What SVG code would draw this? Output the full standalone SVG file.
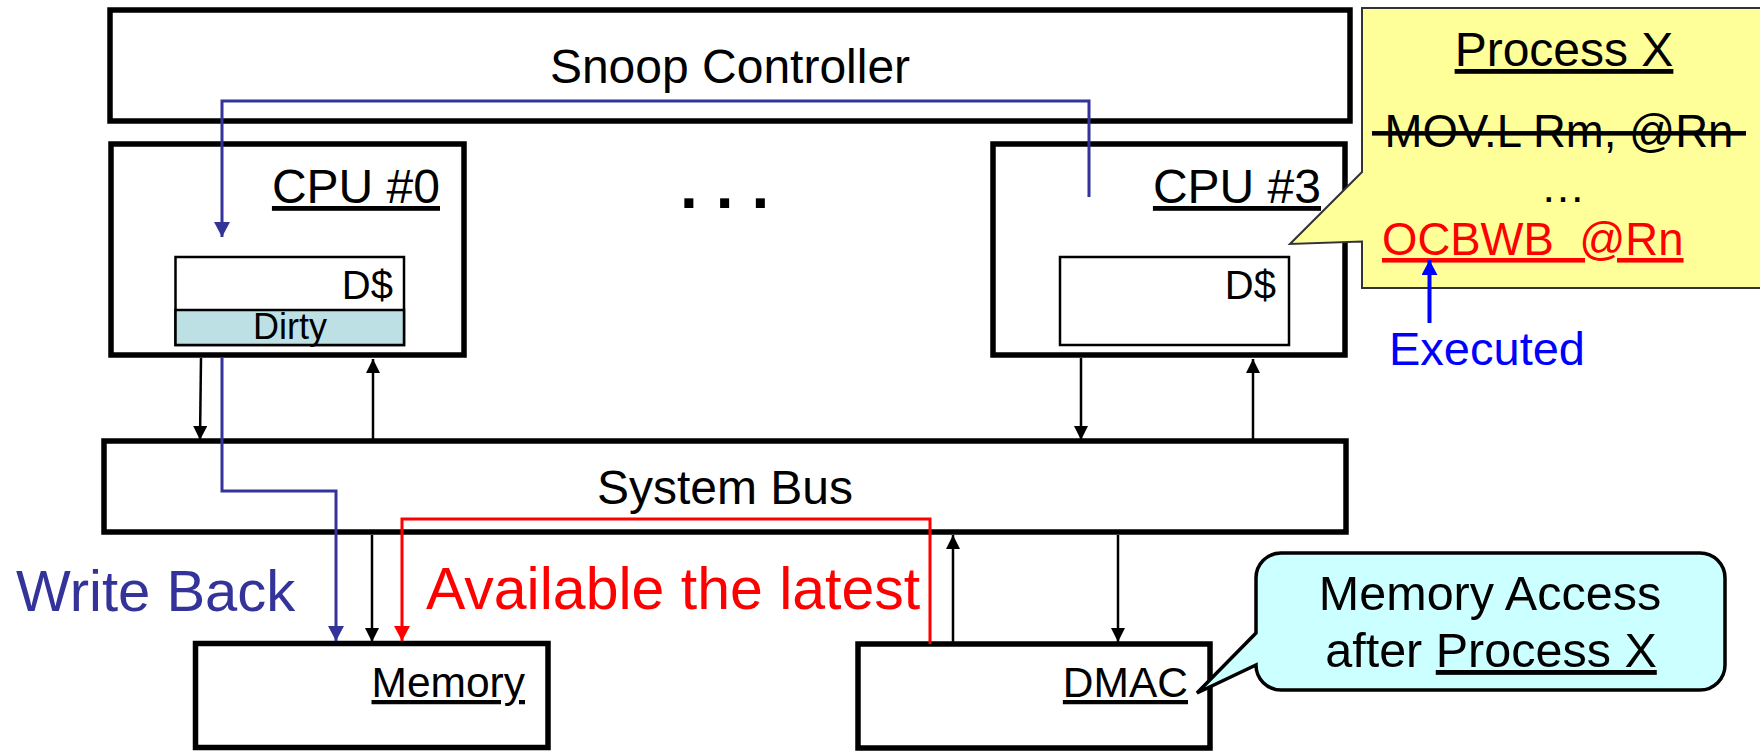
<svg xmlns="http://www.w3.org/2000/svg" width="1760" height="752" viewBox="0 0 1760 752">
  <style>
    text { font-family: "Liberation Sans", Arial, sans-serif; fill: #000; }
    .box { fill: #fff; stroke: #000; stroke-width: 5.5; }
    .cache { fill: #fff; stroke: #000; stroke-width: 2.5; }
    .big { font-size: 48px; }
    .mid { font-size: 42.5px; }
    .note { font-size: 48.5px; }
    .ul { text-decoration: underline; }
    .wire { fill: none; stroke: #000; stroke-width: 2.5; }
    .snoop { fill: none; stroke: #333399; stroke-width: 3; }
    .latest { fill: none; stroke: #ff0000; stroke-width: 3; }
  </style>
  <defs>
    <marker id="ahBlack" markerUnits="userSpaceOnUse" viewBox="0 0 14 14" refX="14" refY="7" markerWidth="14" markerHeight="14" orient="auto">
      <path d="M0,0 L14,7 L0,14 Z" fill="#000"/>
    </marker>
    <marker id="ahNavy" markerUnits="userSpaceOnUse" viewBox="0 0 15 16" refX="15" refY="8" markerWidth="15" markerHeight="16" orient="auto">
      <path d="M0,0 L15,8 L0,16 Z" fill="#333399"/>
    </marker>
    <marker id="ahRed" markerUnits="userSpaceOnUse" viewBox="0 0 15 16" refX="15" refY="8" markerWidth="15" markerHeight="16" orient="auto">
      <path d="M0,0 L15,8 L0,16 Z" fill="#ff0000"/>
    </marker>
    <marker id="ahBlue" markerUnits="userSpaceOnUse" viewBox="0 0 15 16" refX="15" refY="8" markerWidth="15" markerHeight="16" orient="auto">
      <path d="M0,0 L15,8 L0,16 Z" fill="#0000ff"/>
    </marker>
  </defs>

  <rect width="1760" height="752" fill="#fff"/>

  <!-- Snoop controller -->
  <g id="snoop-controller">
    <rect class="box" x="110" y="10" width="1240" height="111"/>
    <text class="big" x="730" y="83" text-anchor="middle">Snoop Controller</text>
  </g>

  <!-- CPU #0 with its data cache -->
  <g id="cpu0">
    <rect class="box" x="111" y="144" width="353" height="211"/>
    <text class="big ul" x="440" y="203" text-anchor="end">CPU #0</text>
    <rect class="cache" x="175.5" y="257" width="228.5" height="88"/>
    <rect x="175.5" y="310" width="228.5" height="35" fill="#bce0e3" stroke="#000" stroke-width="2.5"/>
    <text x="393" y="299" font-size="40" text-anchor="end">D$</text>
    <text x="290" y="339" font-size="36" text-anchor="middle">Dirty</text>
  </g>

  <!-- further CPUs -->
  <g id="ellipsis">
    <text x="680" y="208" font-size="64" font-weight="bold" letter-spacing="18">...</text>
  </g>

  <!-- CPU #3 with its data cache -->
  <g id="cpu3">
    <rect class="box" x="993" y="144" width="352" height="211"/>
    <text class="big ul" x="1321" y="203" text-anchor="end">CPU #3</text>
    <rect class="cache" x="1060" y="257" width="229" height="88"/>
    <text x="1276" y="299" font-size="40" text-anchor="end">D$</text>
  </g>

  <!-- System bus -->
  <g id="system-bus">
    <rect class="box" x="104" y="441" width="1242" height="91"/>
    <text class="big" x="725" y="504" text-anchor="middle">System Bus</text>
  </g>

  <!-- Memory -->
  <g id="memory">
    <rect class="box" x="195.5" y="643.5" width="352.5" height="104"/>
    <text class="mid ul" x="525" y="697" text-anchor="end">Memory</text>
  </g>

  <!-- DMA controller -->
  <g id="dmac">
    <rect class="box" x="858" y="644" width="352" height="104"/>
    <text class="mid ul" x="1188" y="697" text-anchor="end">DMAC</text>
  </g>

  <!-- Connectors -->
  <g id="connectors">
    <!-- CPU <-> bus -->
    <line class="wire" x1="201" y1="358" x2="200" y2="440" marker-end="url(#ahBlack)"/>
    <line class="wire" x1="373" y1="441" x2="373" y2="359" marker-end="url(#ahBlack)"/>
    <line class="wire" x1="1081" y1="358" x2="1081" y2="440" marker-end="url(#ahBlack)"/>
    <line class="wire" x1="1253" y1="441" x2="1253" y2="359" marker-end="url(#ahBlack)"/>
    <!-- bus <-> memory / DMAC -->
    <line class="wire" x1="372" y1="535" x2="372" y2="642" marker-end="url(#ahBlack)"/>
    <line class="wire" x1="953" y1="644" x2="953" y2="535" marker-end="url(#ahBlack)"/>
    <line class="wire" x1="1118" y1="535" x2="1118" y2="642" marker-end="url(#ahBlack)"/>
    <!-- snoop request from CPU #3 to CPU #0 -->
    <polyline class="snoop" points="1089,197 1089,101 222,101 222,237" marker-end="url(#ahNavy)"/>
    <!-- write back of the dirty line -->
    <polyline class="snoop" points="222,357 222,491 336,491 336,641" marker-end="url(#ahNavy)"/>
    <!-- DMAC reads the latest data -->
    <polyline class="latest" points="930,644 930,519 402,519 402,641" marker-end="url(#ahRed)"/>
  </g>

  <!-- Labels on connectors -->
  <g id="labels">
    <text x="16" y="611" font-size="58" style="fill:#333399">Write Back</text>
    <text x="426" y="609" font-size="59" style="fill:#ff0000">Available the latest</text>
  </g>

  <!-- Process X callout -->
  <g id="process-x">
    <path d="M1362,8 H1772 V288 H1362 V241.5 L1290,244 L1362,172 Z" fill="#ffff99" stroke="#333" stroke-width="2"/>
    <text x="1564" y="66" font-size="48" text-anchor="middle" class="ul">Process X</text>
    <text x="1559" y="147" font-size="45.5" text-anchor="middle" xml:space="preserve" style="white-space:pre;text-decoration:line-through"> MOV.L Rm, @Rn </text>
    <text x="1563" y="202" font-size="45" text-anchor="middle">…</text>
    <text x="1382" y="255" font-size="45.5" xml:space="preserve" style="white-space:pre;fill:#ff0000;text-decoration:underline">OCBWB  @Rn</text>
  </g>

  <!-- Executed marker -->
  <g id="executed">
    <line x1="1429.5" y1="323" x2="1429.5" y2="260" stroke="#0000ff" stroke-width="4" marker-end="url(#ahBlue)"/>
    <text x="1389" y="365" font-size="47" style="fill:#0000ff">Executed</text>
  </g>

  <!-- DMAC note callout -->
  <g id="dmac-note">
    <path d="M1281,553 H1700 A25,25 0 0 1 1725,578 V665 A25,25 0 0 1 1700,690 H1281 A25,25 0 0 1 1256,665 L1197,693 L1256,633 V578 A25,25 0 0 1 1281,553 Z" fill="#ccffff" stroke="#000" stroke-width="3.5"/>
    <text class="note" x="1490" y="610" text-anchor="middle">Memory Access</text>
    <text class="note" x="1491" y="667" text-anchor="middle">after <tspan class="ul">Process X</tspan></text>
  </g>
</svg>
